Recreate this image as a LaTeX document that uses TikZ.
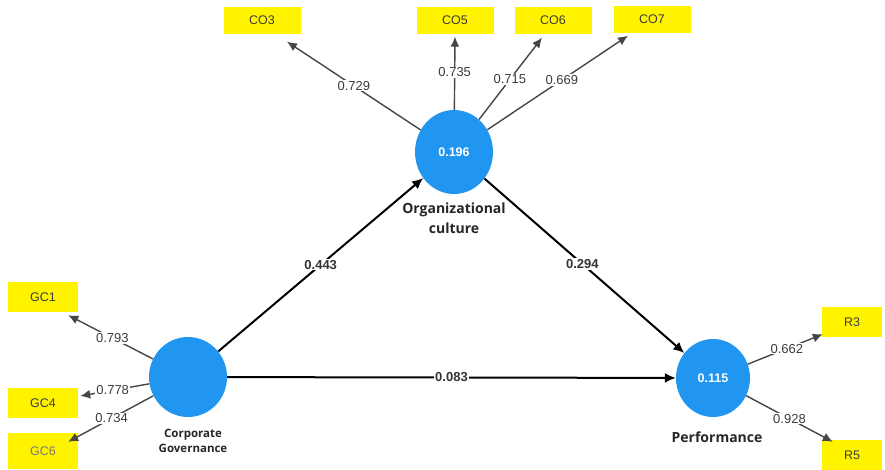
\documentclass[tikz,border=0pt]{standalone}
\usepackage{fontspec}
\setmainfont{Liberation Sans}
\newfontfamily\namefont{Open Sans}
\usetikzlibrary{shapes.geometric,arrows.meta}
\definecolor{boxyellow}{RGB}{255,243,0}
\definecolor{lvblue}{RGB}{32,150,240}
\definecolor{txtgrey}{RGB}{60,60,60}
\definecolor{lngrey}{RGB}{70,70,70}
\tikzset{
  indbox/.style={rectangle, fill=boxyellow, minimum width=77pt, minimum height=27pt, inner sep=0pt,
    font=\fontsize{12.5}{14}\selectfont, text=txtgrey},
  latent/.style={ellipse, fill=lvblue, inner sep=0pt, text=white,
    font=\fontsize{12.5}{14}\selectfont\bfseries},
  lvname/.style={font=\namefont\fontsize{14}{20}\selectfont\bfseries, text=black!85, align=center, inner sep=0pt},
  meas/.style={draw=lngrey, line width=1.4pt, -{Latex[length=10pt,width=9pt]}},
  struct/.style={draw=black, line width=2pt, -{Latex[length=11pt,width=10pt]}},
  mlab/.style={fill=white, inner sep=1pt, text=txtgrey, font=\fontsize{13}{15}\selectfont},
  slab/.style={fill=white, inner sep=1pt, text=black!80, font=\fontsize{13}{15}\selectfont\bfseries},
}
\begin{document}
\begin{tikzpicture}[x=1pt,y=-1pt]
\useasboundingbox[fill=white] (0,0) rectangle (885,469);

% indicator boxes
\node[indbox] (CO3) at (262,20) {CO3};
\node[indbox] (CO5) at (455,20) {CO5};
\node[indbox] (CO6) at (553,20) {CO6};
\node[indbox] (CO7) at (652,19) {CO7};
\node[indbox, minimum width=70pt, minimum height=30pt] (GC1) at (43,297) {GC1};
\node[indbox, minimum width=70pt, minimum height=30pt] (GC4) at (43,403) {GC4};
\node[indbox, minimum width=70pt, minimum height=36pt, text=txtgrey!70] (GC6) at (43,451) {GC6};
\node[indbox, minimum width=60pt, minimum height=30pt] (R3) at (852,322) {R3};
\node[indbox, minimum width=60pt, minimum height=30pt] (R5) at (852,455) {R5};

% latent variables
\node[latent, minimum width=78pt, minimum height=84pt] (OC) at (454,152) {0.196};
\node[latent, minimum width=78pt, minimum height=80pt] (CG) at (188,377) {};
\node[latent, minimum width=74pt, minimum height=78pt] (PF) at (713,378) {0.115};

% names
\node[lvname, anchor=north] (OCname) at ([yshift=-8pt]OC.south) {Organizational\\culture};
\node[lvname, anchor=north, font=\namefont\fontsize{11.5}{15}\selectfont\bfseries] (CGname) at ([xshift=5pt,yshift=-12pt]CG.south) {Corporate\\Governance};
\node[lvname, anchor=north] (PFname) at ([xshift=4pt,yshift=-14pt]PF.south) {Performance};

% endpoints of measurement arrows
\coordinate (tCO3) at ([shift={(25,8)}]CO3.south);
\coordinate (tCO5) at ([shift={(0,3)}]CO5.south);
\coordinate (tCO6) at ([shift={(-11,4)}]CO6.south);
\coordinate (tCO7) at ([shift={(-24,3)}]CO7.south);
\coordinate (tGC1) at ([shift={(-10,3)}]GC1.south east);
\coordinate (tGC4) at ([shift={(2,-7)}]GC4.east);
\coordinate (tGC6) at ([shift={(-10,9)}]GC6.north east);
\coordinate (tR3) at ([shift={(1,-3)}]R3.south west);
\coordinate (tR5) at ([shift={(11,2)}]R5.north west);

% measurement arrows
\draw[meas] (OC) -- node[mlab, pos=0.5] {0.729} (tCO3);
\draw[meas] (OC) -- node[mlab, pos=0.51] {0.735} (tCO5);
\draw[meas] (OC) -- node[mlab, pos=0.49] {0.715} (tCO6);
\draw[meas] (OC) -- node[mlab, pos=0.53] {0.669} (tCO7);
\draw[meas] (CG) -- node[mlab, pos=0.48] {0.793} (tGC1);
\draw[meas] (CG) -- node[mlab, pos=0.53] {0.778} (tGC4);
\draw[meas] (CG) -- node[mlab, pos=0.49] {0.734} (tGC6);
\draw[meas] (PF) -- node[mlab, pos=0.52] {0.662} (tR3);
\draw[meas] (PF) -- node[mlab, pos=0.5] {0.928} (tR5);

% structural arrows
\draw[struct] (CG) -- node[slab, pos=0.5] {0.443} (OC);
\draw[struct] (OC) -- node[slab, pos=0.49] {0.294} (PF);
\draw[struct] (CG) -- node[slab, pos=0.5] {0.083} (PF);
\end{tikzpicture}
\end{document}
